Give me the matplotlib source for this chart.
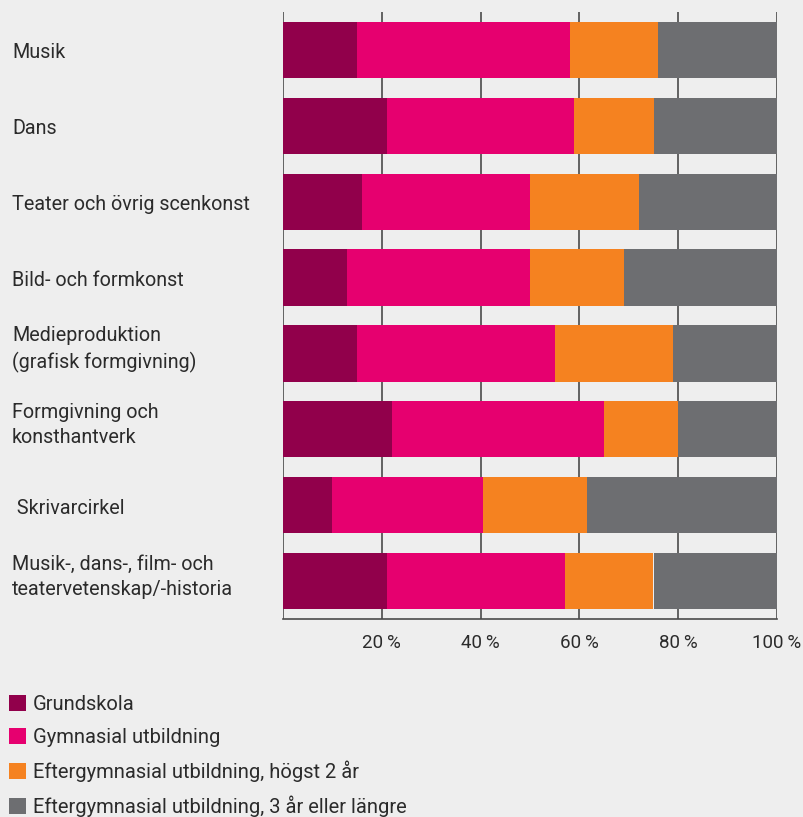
import matplotlib.pyplot as plt
from matplotlib.patches import Patch
from matplotlib.transforms import ScaledTranslation

plt.rcParams['font.family'] = ['Roboto', 'DejaVu Sans']

categories = [
    'Musik',
    'Dans',
    'Teater och övrig scenkonst',
    'Bild- och formkonst',
    'Medieproduktion\n(grafisk formgivning)',
    'Formgivning och\nkonsthantverk',
    ' Skrivarcirkel',
    'Musik-, dans-, film- och\nteatervetenskap/-historia',
]

# percent per education level
grundskola = [15, 21, 16, 13, 15, 22, 10, 21]
gymnasial = [43, 38, 34, 37, 40, 43, 30.5, 36]
efter_2 = [18, 16, 22, 19, 24, 15, 21, 18]
efter_3 = [24, 25, 28, 31, 21, 20, 38.5, 25]

series = [
    ('Grundskola', grundskola, '#91004b'),
    ('Gymnasial utbildning', gymnasial, '#e6006f'),
    ('Eftergymnasial utbildning, högst 2 år', efter_2, '#f58220'),
    ('Eftergymnasial utbildning, 3 år eller längre', efter_3, '#6d6e71'),
]

xticks = [20, 40, 60, 80, 100]
xticklabels = ['20\u2009%', '40\u2009%', '60\u2009%', '80\u2009%', '100\u2009%']

bg = '#eeeeee'
txt = '#2b2b2b'
fs = 14.2

fig = plt.figure(figsize=(8.04, 8.17), dpi=100, facecolor=bg)
ax = fig.add_axes([283 / 804, 1 - 619 / 817, 494 / 804, 607 / 817])
ax.set_facecolor(bg)

ypos = list(range(len(categories)))
left = [0] * len(categories)
handles = []
for name, vals, col in series:
    ax.barh(ypos, vals, left=left, height=0.74, color=col, zorder=3)
    left = [l + v for l, v in zip(left, vals)]
    handles.append(Patch(facecolor=col, label=name))

ax.set_xlim(0, 100)
ax.set_ylim(len(categories) - 0.5, -0.5)

for x in [0] + xticks:
    ax.axvline(x, color='#4a4a4a', lw=1.2, zorder=1)

for s in ['top', 'right', 'left']:
    ax.spines[s].set_visible(False)
ax.spines['bottom'].set_color('#4a4a4a')
ax.spines['bottom'].set_linewidth(1.2)

ax.set_xticks(xticks)
ax.set_xticklabels(xticklabels, fontsize=13.5, color=txt)
ax.tick_params(axis='x', length=0, pad=11)

ax.set_yticks(ypos)
ax.set_yticklabels(categories, fontsize=fs, color=txt, ha='left',
                   va='center', linespacing=1.42)
ax.tick_params(axis='y', length=0, pad=271 * 0.72)

# single-line labels sit a bit lower, two-line labels a bit higher
for lab in ax.get_yticklabels():
    dy = 4 if '\n' in lab.get_text() else -3
    lab.set_transform(lab.get_transform()
                      + ScaledTranslation(0, dy / 100, fig.dpi_scale_trans))

leg = fig.legend(handles=handles, loc='upper left',
                 bbox_to_anchor=(9 / 804, 1 - 695 / 817),
                 frameon=False, fontsize=14.5, handlelength=0.85,
                 handleheight=0.85, handletextpad=0.35, labelspacing=0.68,
                 borderaxespad=0, borderpad=0)
for t in leg.get_texts():
    t.set_color(txt)

fig.savefig('out.png', dpi=100, facecolor=bg)
